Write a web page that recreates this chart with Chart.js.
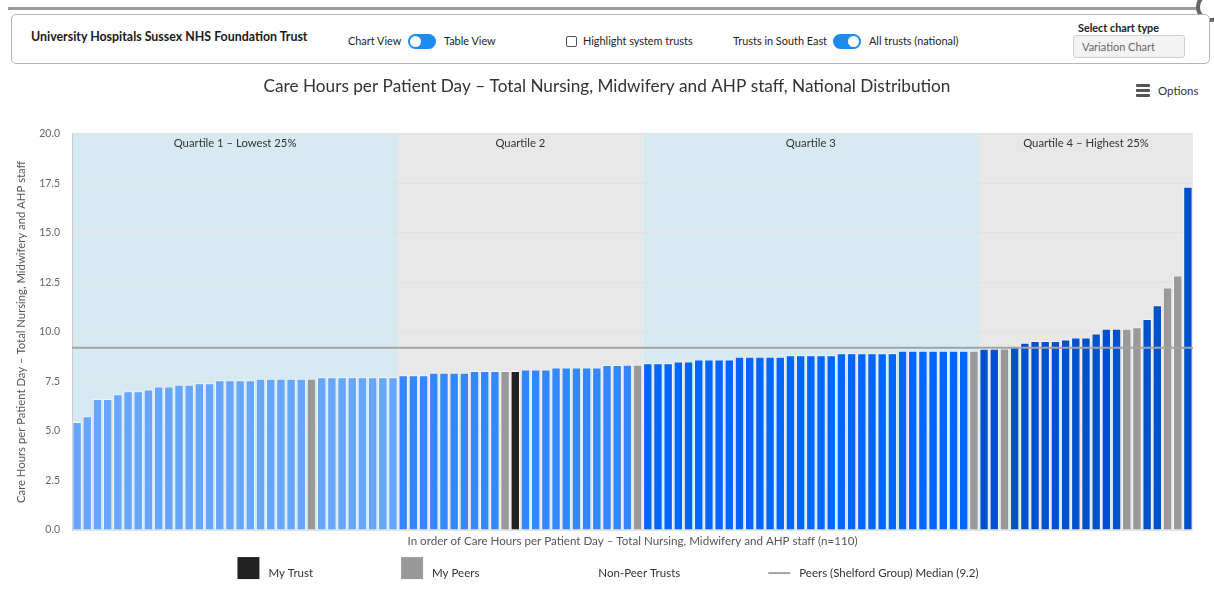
<!DOCTYPE html>
<html>
<head>
<meta charset="utf-8">
<title>Care Hours per Patient Day</title>
<script src="https://cdn.jsdelivr.net/npm/chart.js@4.4.0/dist/chart.umd.min.js"></script>
<style>
  html, body { margin: 0; padding: 0; background: #fff; width: 1214px; height: 596px; overflow: hidden;
    font-family: Lato, "Open Sans", sans-serif; color: #222; }
  .abs { position: absolute; white-space: nowrap; }
  .topline { position: absolute; left: 8px; top: 7px; width: 1192px; height: 3px; background: #9c9c9c; }
  .ring { position: absolute; left: 1196px; top: -8px; width: 22px; height: 22px; border: 4px solid #666; border-radius: 50%; background: #fff; }
  .panel { position: absolute; left: 11px; top: 14px; width: 1199px; height: 50px; border: 1px solid #b5b5b5;
    border-radius: 5px; box-sizing: border-box; background: #fff; }
  .trust { font-size: 12.4px; font-weight: 700; color: #1a1a1a; }
  .lbl { font-size: 10.9px; color: #222; }
  .toggle { position: absolute; width: 28px; height: 15px; border-radius: 8px; background: #1d8bf1; }
  .toggle .knob { position: absolute; top: 2px; width: 11px; height: 11px; border-radius: 50%; background: #fff; }
  .check { position: absolute; width: 9px; height: 9px; border: 1px solid #555; border-radius: 2px; background: #fff; }
  .select { position: absolute; left: 1073px; top: 35px; width: 112px; height: 23px; box-sizing: border-box;
    border: 1px solid #cfcfcf; border-radius: 3px; background: #f3f3f3; font-size: 11px; color: #666; padding: 4px 0 0 8px; }
  .menu { position: absolute; left: 1136px; width: 14px; height: 2.5px; background: #555; border-radius: 1px; }
  #wrap { position: absolute; left: 0; top: 66px; width: 1214px; height: 530px; }
</style>
</head>
<body>
<div class="topline"></div>
<div class="ring"></div>
<div class="panel"></div>
<div class="abs trust" style="left:31px; top:29px;">University Hospitals Sussex NHS Foundation Trust</div>
<div class="abs lbl" style="left:348px; top:34px;">Chart View</div>
<div class="toggle" style="left:408px; top:34px;"><div class="knob" style="left:2px;"></div></div>
<div class="abs lbl" style="left:444px; top:34px;">Table View</div>
<div class="check" style="left:566px; top:36px;"></div>
<div class="abs lbl" style="left:583px; top:34px;">Highlight system trusts</div>
<div class="abs lbl" style="left:733px; top:34px;">Trusts in South East</div>
<div class="toggle" style="left:833px; top:34px;"><div class="knob" style="left:15px;"></div></div>
<div class="abs lbl" style="left:869px; top:34px;">All trusts (national)</div>
<div class="abs lbl" style="left:1078px; top:21px; font-size:10.8px; font-weight:700; color:#222;">Select chart type</div>
<div class="select">Variation Chart</div>
<div class="menu" style="top:84px;"></div>
<div class="menu" style="top:89px;"></div>
<div class="menu" style="top:94px;"></div>
<div class="abs" style="left:1158px; top:84px; font-size:11.5px; color:#333;">Options</div>

<div id="wrap"><canvas id="chart" width="1214" height="530"></canvas></div>

<script>
// Care hours per patient day for each trust, ranked lowest to highest (n=110)
const chartTitle = 'Care Hours per Patient Day \u2013 Total Nursing, Midwifery and AHP staff, National Distribution';
const yAxisTitle = 'Care Hours per Patient Day \u2013 Total Nursing, Midwifery and AHP staff';
const xAxisTitle = 'In order of Care Hours per Patient Day \u2013 Total Nursing, Midwifery and AHP staff (n=110)';

const careHours = [
  5.46, 5.74, 6.62, 6.62, 6.85, 7.01, 7.01, 7.10, 7.25, 7.25,
  7.34, 7.34, 7.41, 7.41, 7.56, 7.56, 7.56, 7.56, 7.64, 7.64,
  7.64, 7.64, 7.64, 7.64, 7.72, 7.72, 7.72, 7.72, 7.72, 7.72,
  7.72, 7.72, 7.81, 7.81, 7.81, 7.94, 7.94, 7.94, 7.94, 8.03,
  8.03, 8.03, 8.03, 8.03, 8.11, 8.11, 8.11, 8.21, 8.21, 8.21,
  8.21, 8.21, 8.33, 8.33, 8.34, 8.34, 8.42, 8.42, 8.42, 8.51,
  8.51, 8.61, 8.61, 8.61, 8.61, 8.75, 8.75, 8.75, 8.75, 8.75,
  8.83, 8.83, 8.83, 8.83, 8.83, 8.92, 8.92, 8.92, 8.92, 8.92,
  8.92, 9.05, 9.05, 9.05, 9.05, 9.05, 9.05, 9.05, 9.05, 9.15,
  9.15, 9.16, 9.24, 9.45, 9.54, 9.54, 9.54, 9.62, 9.72, 9.72,
  9.92, 10.16, 10.16, 10.16, 10.24, 10.65, 11.35, 12.24, 12.85, 17.33
];
const rankLabels = careHours.map((_, i) => String(i + 1));

// Ranks (1-based) of the peer trusts and of this trust
const peerRanks = [24, 43, 56, 89, 92, 104, 105, 108, 109];
const myTrustRank = 44;

// Number of trusts in each quartile band, and their labels
const quartileSizes = [32, 24, 33, 21];
const quartileLabels = ['Quartile 1 \u2013 Lowest 25%', 'Quartile 2', 'Quartile 3', 'Quartile 4 \u2013 Highest 25%'];

const peerMedian = 9.2;
const yTickStep = 2.5;
const yMin = 0, yMax = 20;

const legendItems = [
  { text: 'My Trust', kind: 'box', color: '#222222' },
  { text: 'My Peers', kind: 'box', color: '#999999' },
  { text: 'Non-Peer Trusts', kind: 'none', color: 'rgba(0,0,0,0)' },
  { text: 'Peers (Shelford Group) Median (' + peerMedian + ')', kind: 'line', color: '#a3a3a3' }
];

const FONT = 'Lato, "Open Sans", sans-serif';
const quartileBarColors = ['#66a6ff', '#3388ff', '#0066ff', '#0052cc'];
const bandColors = ['#d7e9f1', '#e8e8e8', '#d7e9f1', '#e8e8e8'];

function quartileOf(idx) {
  let acc = 0;
  for (let q = 0; q < quartileSizes.length; q++) {
    acc += quartileSizes[q];
    if (idx < acc) return q;
  }
  return quartileSizes.length - 1;
}

const barColors = careHours.map((_, i) => {
  const rank = i + 1;
  if (rank === myTrustRank) return '#222222';
  if (peerRanks.includes(rank)) return '#999999';
  return quartileBarColors[quartileOf(i)];
});

// Shaded quartile bands with their captions, behind the grid and bars
const quartileBands = {
  id: 'quartileBands',
  beforeDraw(chart) {
    const { ctx, chartArea, scales: { x } } = chart;
    const half = (x.getPixelForValue(1) - x.getPixelForValue(0)) / 2;
    let start = 0;
    ctx.save();
    quartileSizes.forEach((n, q) => {
      const end = start + n - 1;
      const left = x.getPixelForValue(start) - half;
      const right = x.getPixelForValue(end) + half;
      ctx.fillStyle = bandColors[q];
      ctx.fillRect(left, chartArea.top, right - left, chartArea.bottom - chartArea.top);
      ctx.fillStyle = '#333';
      ctx.font = '11.3px ' + FONT;
      ctx.textAlign = 'center';
      ctx.textBaseline = 'middle';
      ctx.fillText(quartileLabels[q], (left + right) / 2, chartArea.top + 10);
      start += n;
    });
    ctx.restore();
  }
};

// Peer-group median drawn across the full plot width
const medianLine = {
  id: 'medianLine',
  afterDatasetsDraw(chart) {
    const { ctx, chartArea, scales: { y } } = chart;
    const py = y.getPixelForValue(peerMedian);
    ctx.save();
    ctx.strokeStyle = '#a3a3a3';
    ctx.lineWidth = 2;
    ctx.beginPath();
    ctx.moveTo(chartArea.left, py);
    ctx.lineTo(chartArea.right, py);
    ctx.stroke();
    ctx.restore();
  }
};

// Legend row below the x-axis title, centred on the canvas
const bottomLegend = {
  id: 'bottomLegend',
  afterDraw(chart) {
    const { ctx } = chart;
    const box = 22, gap = 9, spacing = 88;
    ctx.save();
    ctx.font = '11.5px ' + FONT;
    const widths = legendItems.map(it => box + gap + ctx.measureText(it.text).width);
    const total = widths.reduce((a, b) => a + b, 0) + spacing * (legendItems.length - 1);
    let cx = chart.width / 2 + 1 - total / 2;
    const boxTop = chart.chartArea.bottom + 27;
    const textMid = boxTop + 16;
    legendItems.forEach((it, i) => {
      if (it.kind === 'box') {
        ctx.fillStyle = it.color;
        ctx.fillRect(cx, boxTop, box, box);
      } else if (it.kind === 'line') {
        ctx.strokeStyle = it.color;
        ctx.lineWidth = 2;
        ctx.beginPath();
        ctx.moveTo(cx, textMid);
        ctx.lineTo(cx + box, textMid);
        ctx.stroke();
      }
      ctx.fillStyle = '#333';
      ctx.textAlign = 'left';
      ctx.textBaseline = 'middle';
      ctx.fillText(it.text, cx + box + gap, textMid);
      cx += widths[i] + spacing;
    });
    ctx.restore();
  }
};

new Chart(document.getElementById('chart'), {
  type: 'bar',
  data: {
    labels: rankLabels,
    datasets: [{
      label: 'Trusts',
      data: careHours,
      backgroundColor: barColors,
      borderColor: 'rgba(255,255,255,0.55)',
      borderWidth: 1,
      categoryPercentage: 1,
      barPercentage: 0.92
    }]
  },
  options: {
    responsive: false,
    animation: false,
    devicePixelRatio: 1,
    layout: { padding: { left: 21, right: 21, top: 0, bottom: 48 } },
    plugins: {
      legend: { display: false },
      tooltip: { enabled: false },
      title: {
        display: true,
        text: chartTitle,
        color: '#333',
        font: { family: FONT, size: 17.2, weight: 'normal' },
        padding: { top: 9.7, bottom: 37.5 }
      }
    },
    scales: {
      x: {
        grid: { display: false },
        border: { display: false },
        ticks: { display: false },
        title: { display: true, text: xAxisTitle, color: '#555', font: { family: FONT, size: 11.6 }, padding: { top: -4, bottom: 0 } }
      },
      y: {
        min: yMin,
        max: yMax,
        afterFit(scale) { scale.width = 51; },
        ticks: { stepSize: yTickStep, callback: v => Number(v).toFixed(1), color: '#666', font: { family: FONT, size: 10.5 }, padding: 12 },
        grid: { color: '#e2e2e2', drawTicks: false },
        border: { display: true, color: '#cccccc' },
        title: { display: true, text: yAxisTitle, color: '#555', font: { family: FONT, size: 11.3 }, padding: { top: -6, bottom: 0 } }
      }
    }
  },
  plugins: [quartileBands, medianLine, bottomLegend]
});
</script>
</body>
</html>
